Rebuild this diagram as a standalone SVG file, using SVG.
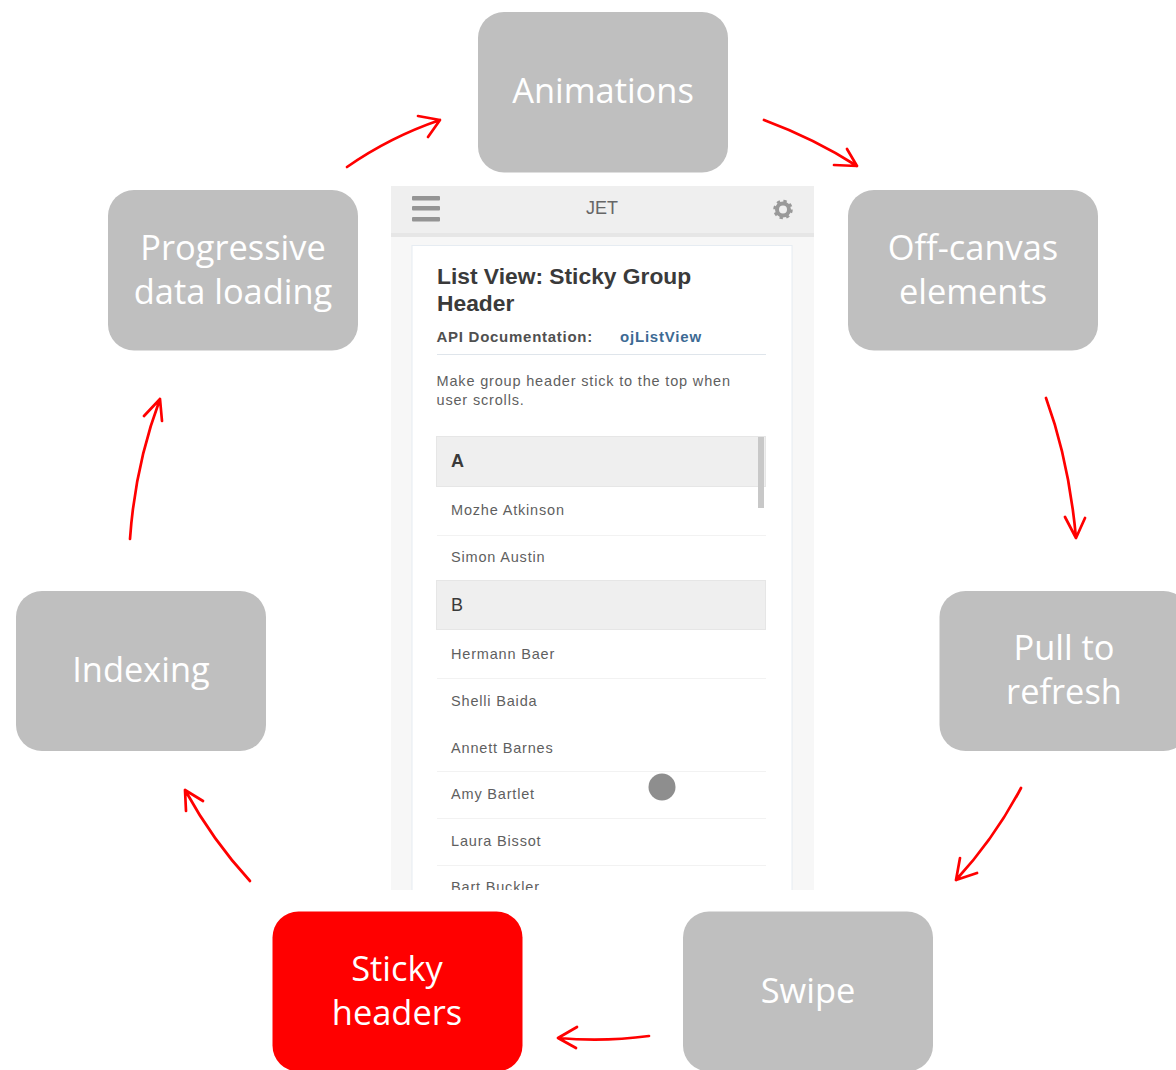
<svg xmlns="http://www.w3.org/2000/svg" width="1176" height="1070" viewBox="0 0 1176 1070">
<defs>
<style>
.box{fill:#bfbfbf}
.lbl{font-family:"Open Sans","Noto Sans",sans-serif;font-size:34.4px;fill:#fff;text-anchor:middle}
.conn{fill:none;stroke:#f00;stroke-width:2.7;stroke-linecap:round;stroke-linejoin:round}
.ui{font-family:"Liberation Sans",Arial,sans-serif}
.name{font-size:14.5px;fill:#5f5f5f;letter-spacing:.82px}
.sep{stroke:#f2f2f2;stroke-width:1}
.grp{fill:#efefef;stroke:#e6e6e6;stroke-width:1}
.gl{font-size:18px;fill:#3a3a3a;font-weight:bold}
</style>
<clipPath id="phone"><rect x="391" y="186" width="423" height="704"/></clipPath>
</defs>
<rect width="1176" height="1070" fill="#fff"/>
<g id="screenshot" clip-path="url(#phone)">
<rect x="391" y="186" width="423" height="704" fill="#f7f7f7"/>
<rect x="391" y="186" width="423" height="47" fill="#efefef"/>
<rect x="391" y="233" width="423" height="4" fill="#e6e6e6"/>
<g fill="#949494"><rect x="412" y="196" width="28" height="4.500" rx="1"/><rect x="412" y="206" width="28" height="4.500" rx="1"/><rect x="412" y="217" width="28" height="4.500" rx="1"/></g>
<text x="602" y="214" text-anchor="middle" class="ui" font-size="18" fill="#666">JET</text>
<circle cx="783" cy="209.500" r="6" fill="none" stroke="#999" stroke-width="4"/>
<circle cx="783" cy="209.500" r="8.500" fill="none" stroke="#999" stroke-width="2.500" stroke-dasharray="3.300 3.400"/>
<rect x="412" y="245.500" width="380" height="660" fill="#fff" stroke="#e6ecf2"/>
<text class="ui" font-size="22.800" font-weight="bold" fill="#3a3a3a"><tspan x="437" y="284">List View: Sticky Group</tspan><tspan x="437" y="311">Header</tspan></text>
<text x="436.500" y="342" class="ui" font-size="15" font-weight="bold" fill="#505050" letter-spacing=".73">API Documentation:</text>
<text x="620" y="342" class="ui" font-size="15" font-weight="bold" fill="#3d6a94" letter-spacing=".8">ojListView</text>
<line x1="437" y1="354.500" x2="766" y2="354.500" stroke="#dfe5eb"/>
<text class="ui" font-size="14.500" fill="#5f5f5f" letter-spacing=".83"><tspan x="436.500" y="386">Make group header stick to the top when</tspan><tspan x="436.500" y="405">user scrolls.</tspan></text>
<rect class="grp" x="436.500" y="436.500" width="329" height="50"/>
<rect x="758" y="437" width="6" height="71" fill="#c8c8c8"/>
<text x="451" y="467" class="ui gl">A</text>
<text x="451" y="515" class="ui name">Mozhe Atkinson</text>
<line class="sep" x1="437" y1="535.500" x2="766" y2="535.500"/>
<text x="451" y="562" class="ui name">Simon Austin</text>
<rect class="grp" x="436.500" y="580.500" width="329" height="49"/>
<text x="451" y="611" class="ui gl" style="font-weight:normal">B</text>
<text x="451" y="659" class="ui name">Hermann Baer</text>
<line class="sep" x1="437" y1="678.500" x2="766" y2="678.500"/>
<text x="451" y="706" class="ui name">Shelli Baida</text>
<text x="451" y="753" class="ui name">Annett Barnes</text>
<line class="sep" x1="437" y1="771.500" x2="766" y2="771.500"/>
<text x="451" y="799" class="ui name">Amy Bartlet</text>
<line class="sep" x1="437" y1="818.500" x2="766" y2="818.500"/>
<text x="451" y="846" class="ui name">Laura Bissot</text>
<line class="sep" x1="437" y1="865.500" x2="766" y2="865.500"/>
<text x="451" y="892" class="ui name">Bart Buckler</text>
<circle cx="662" cy="787" r="13.500" fill="#8e8e8e"/>
</g>
<g id="connectors">
<path class="conn" d="M347 167Q390 137 440 120M418 116L440 120L428 137"/>
<path class="conn" d="M764 120Q815 139 857 166M834 165L857 166L847 149"/>
<path class="conn" d="M1046 398Q1069 461 1076 538M1065 517L1076 538L1085 518"/>
<path class="conn" d="M1021 788Q994 839 956 880M960 858L956 880L977 873"/>
<path class="conn" d="M649 1036Q604 1042 558 1038M577 1027L558 1038L576 1048"/>
<path class="conn" d="M250 881Q213 841 185 790M186 811L185 790L203 801"/>
<path class="conn" d="M130 539Q135 466 160 399M144 416L160 399L162 421"/>
</g>
<g id="node-animations"><rect class="box" x="478" y="12" width="250" height="160.500" rx="26"/><text class="lbl" x="603" y="103">Animations</text></g>
<g id="node-offcanvas"><rect class="box" x="848" y="190" width="250" height="160.500" rx="26"/><text class="lbl" x="973" y="260">Off-canvas</text><text class="lbl" x="973" y="304">elements</text></g>
<g id="node-pull"><rect class="box" x="939.500" y="591" width="250" height="160" rx="26"/><text class="lbl" x="1064" y="660">Pull to</text><text class="lbl" x="1064" y="704">refresh</text></g>
<g id="node-swipe"><rect class="box" x="683" y="911.500" width="250" height="160" rx="26"/><text class="lbl" x="808" y="1003">Swipe</text></g>
<g id="node-sticky"><rect x="272.500" y="911.500" width="250" height="160" rx="26" fill="#f00"/><text class="lbl" x="397" y="981">Sticky</text><text class="lbl" x="397" y="1025">headers</text></g>
<g id="node-indexing"><rect class="box" x="16" y="591" width="250" height="160" rx="26"/><text class="lbl" x="141" y="682">Indexing</text></g>
<g id="node-progressive"><rect class="box" x="108" y="190" width="250" height="160.500" rx="26"/><text class="lbl" x="233" y="260">Progressive</text><text class="lbl" x="233" y="304">data loading</text></g>
</svg>
